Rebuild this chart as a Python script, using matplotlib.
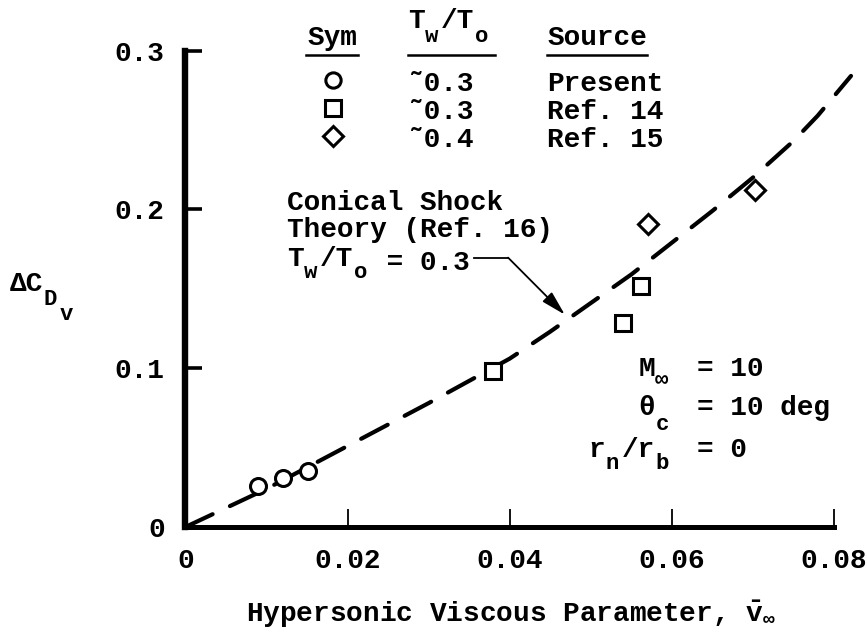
import matplotlib.pyplot as plt

plt.rcParams['font.family'] = ['Liberation Mono', 'DejaVu Sans']
plt.rcParams['font.weight'] = 'bold'
plt.rcParams['font.size'] = 20
plt.rcParams['mathtext.fontset'] = 'custom'
plt.rcParams['mathtext.rm'] = 'Liberation Mono:bold'
plt.rcParams['mathtext.it'] = 'Liberation Mono:bold'
plt.rcParams['mathtext.bf'] = 'Liberation Mono:bold'
plt.rcParams['mathtext.default'] = 'rm'

# conical shock theory curve (Ref. 16), Tw/To = 0.3
theory_x = [0, 0.005, 0.01, 0.02, 0.03, 0.04, 0.045, 0.05, 0.055, 0.06,
            0.065, 0.07, 0.075, 0.078, 0.0821]
theory_y = [0, 0.012, 0.024, 0.051, 0.078, 0.106, 0.123, 0.141, 0.159, 0.179,
            0.199, 0.220, 0.243, 0.259, 0.284]

# measurements
present_x = [0.0089, 0.012, 0.0151]
present_y = [0.026, 0.031, 0.035]
ref14_x = [0.038, 0.054, 0.0562]
ref14_y = [0.098, 0.1286, 0.152]
ref15_x = [0.057, 0.0703]
ref15_y = [0.191, 0.212]

xticks = [0, 0.02, 0.04, 0.06, 0.08]
xticklabels = ['0', '0.02', '0.04', '0.06', '0.08']
yticks = [0, 0.1, 0.2, 0.3]
yticklabels = ['0', '0.1', '0.2', '0.3']

sym_markers = ['o', 's', 'D']
sym_ratios = ['\u02dc0.3', '\u02dc0.3', '\u02dc0.4']
sym_sources = ['Present', 'Ref. 14', 'Ref. 15']

CELL = 12.0  # typewriter cell width in points (0.6 em at 20 pt)
SUB = 16


def typed(ax, x, y, parts, align='left'):
    # lay out (text, drop) pieces in fixed-width cells, baseline at (x, y) axes fraction;
    # pieces dropped by more than 5 pt are set smaller, as subscripts
    total = CELL * sum(len(s) for s, _ in parts)
    off = {'left': 0.0, 'right': -total, 'center': -total / 2}[align]
    for s, drop in parts:
        fs = SUB if drop > 5 else 20
        ax.annotate(s, xy=(x, y), xycoords='axes fraction',
                    xytext=(off, -drop), textcoords='offset points',
                    ha='left', va='baseline', fontsize=fs, annotation_clip=False)
        off += CELL * len(s)


fig = plt.figure(figsize=(8.67, 6.37), dpi=100)
ax = fig.add_axes([0.2139, 0.1727, 0.748, 0.748])

ax.plot(theory_x, theory_y, color='black', lw=3, dashes=(7.2, 4.6),
        dash_capstyle='round', clip_on=False, zorder=2)

mk = dict(linestyle='none', mfc='white', mec='black', mew=2.2, clip_on=False, zorder=3)
ax.plot(present_x, present_y, marker='o', ms=11.5, **mk)
ax.plot(ref14_x, ref14_y, marker='s', ms=11, **mk)
ax.plot(ref15_x, ref15_y, marker='D', ms=10.5, **mk)

ax.set_xlim(0, 0.08)
ax.set_ylim(0, 0.3)
ax.set_xticks(xticks)
ax.set_xticklabels(xticklabels)
ax.set_yticks(yticks)
ax.set_yticklabels(yticklabels)

for s in ['top', 'right']:
    ax.spines[s].set_visible(False)
ax.spines['left'].set_linewidth(4.6)
ax.spines['bottom'].set_linewidth(3.6)
ax.spines['left'].set_capstyle('projecting')
ax.tick_params(axis='y', direction='in', length=12, width=2.6, pad=15)
ax.tick_params(axis='x', direction='in', length=13, width=1.3, pad=15)

# axis titles
typed(ax, -0.2706, 0.4953, [('\u0394C', 0), ('D', 10), ('v', 21)])
ax.text(0.502, -0.1994, r'Hypersonic Viscous Parameter, $\bar{\mathrm{v}}_{\infty}$',
        transform=ax.transAxes, ha='center', va='baseline')

# symbol table
ta = ax.transAxes
ax.text(0.2274, 1.0122, 'Sym', transform=ta, ha='center', va='baseline')
typed(ax, 0.3431, 1.0472, [('T', 0), ('w', 10), ('/T', 0), ('o', 10)])
ax.text(0.6345, 1.0122, 'Source', transform=ta, ha='center', va='baseline')
for x0, x1 in [(0.1859, 0.2660), (0.3431, 0.4773), (0.5574, 0.7117)]:
    ax.plot([x0, x1], [0.9916, 0.9916], transform=ta, color='black', lw=1.8,
            clip_on=False)

row_y = [0.9297, 0.8709, 0.8122]
for m, r, src, y in zip(sym_markers, sym_ratios, sym_sources, row_y):
    ax.plot([0.2274], [y + 0.008], transform=ta, marker=m,
            ms=11 if m != 'D' else 10, mfc='white', mec='black', mew=2.2,
            clip_on=False)
    ax.text(0.3431, y, r, transform=ta, ha='left', va='center')
    ax.text(0.5574, y, src, transform=ta, ha='left', va='center')

# theory label with leader arrow
ax.text(0.1565, 0.6648, 'Conical Shock', transform=ta, ha='left', va='baseline')
ax.text(0.1565, 0.6085, 'Theory (Ref. 16)', transform=ta, ha='left', va='baseline')
typed(ax, 0.1565, 0.5480, [('T', 0), ('w', 9), ('/T', 0), ('o', 9), (' = 0.3', 3)])
ax.plot([0.0356, 0.0398], [0.1696, 0.1696], color='black', lw=1.3)
ax.annotate('', xy=(0.0468, 0.1337), xytext=(0.0398, 0.1696),
            arrowprops=dict(arrowstyle='-|>,head_length=1.5,head_width=0.4',
                            color='black', lw=1.3, mutation_scale=10,
                            shrinkA=0, shrinkB=0))

# flow conditions, equals signs lined up
cond_left = [[('M', 0), ('\u221e', 7)], [('\u03b8', 0), ('c', 11)],
             [('r', 0), ('n', 9), ('/r', 0), ('b', 9)]]
cond_right = ['= 10', '= 10 deg', '= 0']
cond_y = [0.3169, 0.2350, 0.1469]
for l, r, y in zip(cond_left, cond_right, cond_y):
    typed(ax, 0.7502, y, l, align='right')
    ax.text(0.7888, y, r, transform=ta, ha='left', va='baseline')

fig.savefig('out.png', dpi=100)
